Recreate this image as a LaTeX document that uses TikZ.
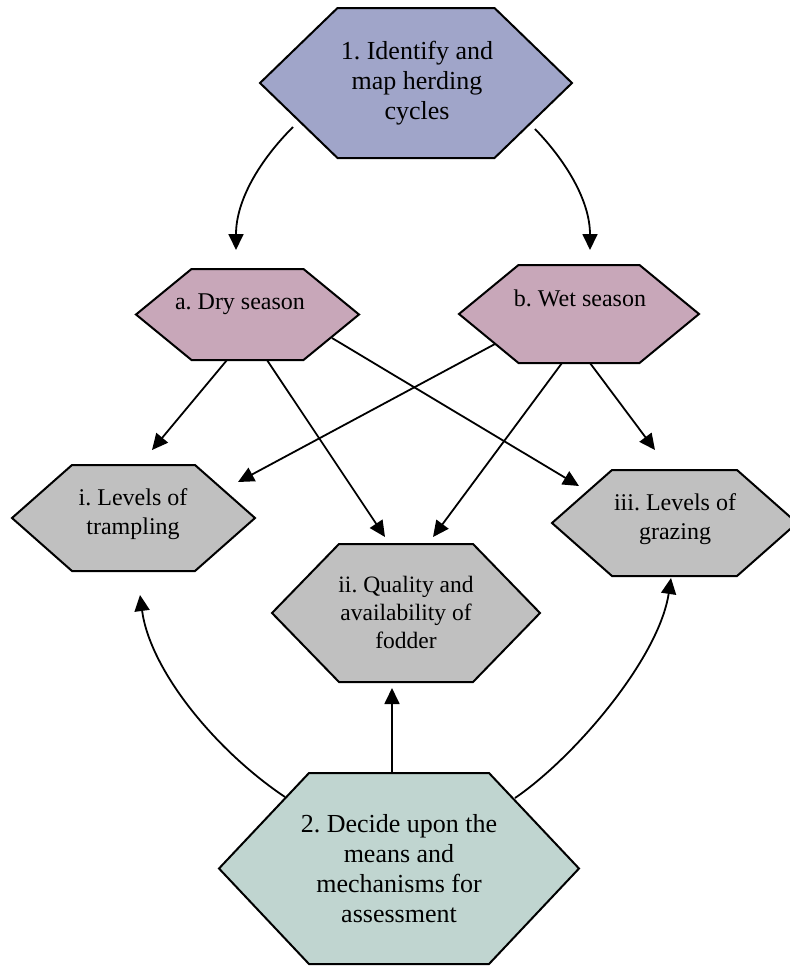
\documentclass[tikz,border=0pt]{standalone}
\usepackage{fontspec}
\setmainfont{Liberation Serif}
\usetikzlibrary{arrows.meta,calc}
\definecolor{cTop}{HTML}{A0A5C9}
\definecolor{cSea}{HTML}{C8A7B9}
\definecolor{cGry}{HTML}{C0C0C0}
\definecolor{cBot}{HTML}{C0D5D0}
\newcommand\fbig{\fontsize{26}{30}\selectfont\frenchspacing}
\newcommand\fmid{\fontsize{24}{29}\selectfont\frenchspacing}
\newcommand\fsml{\fontsize{23.5}{28}\selectfont\frenchspacing}
% style, cx, cy, half width, half height, half top edge
\newcommand\hexpath[6]{%
  \path[#1] ({#2-#4},#3) -- ({#2-#6},{#3-#5}) -- ({#2+#6},{#3-#5}) --
    ({#2+#4},#3) -- ({#2+#6},{#3+#5}) -- ({#2-#6},{#3+#5}) -- cycle;}
\tikzset{
  hexs/.style={draw=black, line width=2pt, line join=miter},
  lbl/.style={align=center, inner sep=0pt, text=black},
  arr/.style={line width=1.8pt, -{Triangle[length=16pt,width=15pt]}},
}
\begin{document}
\begin{tikzpicture}[x=1pt,y=-1pt]
\useasboundingbox (0,0) rectangle (790,967);
% hexagons
\hexpath{hexs,fill=cTop}{416}{83}{156}{75}{78.5}
\hexpath{hexs,fill=cSea}{247.5}{314.5}{111.5}{45.5}{56}
\hexpath{hexs,fill=cSea}{579}{314}{120}{49}{60.5}
\hexpath{hexs,fill=cGry}{133.5}{518}{121.5}{53}{61.5}
\hexpath{hexs,fill=cGry}{406}{613}{134}{69}{67}
\hexpath{hexs,fill=cGry}{674.5}{523}{122.5}{53}{62.5}
\hexpath{hexs,fill=cBot}{399}{868.5}{180}{95.5}{90}
% labels
\node[lbl,font=\fbig] (h1) at (417,83) {1. Identify and\\map herding\\cycles};
\node[lbl,font=\fmid] (ha) at (240,304) {a. Dry season};
\node[lbl,font=\fmid] (hb) at (580,298) {b. Wet season};
\node[lbl,font=\fmid] (hi) at (133,514) {i. Levels of\\trampling};
\node[lbl,font=\fsml] (hii) at (406,612) {ii. Quality and\\availability of\\fodder};
\node[lbl,font=\fmid] (hiii) at (675,519) {iii. Levels of\\grazing};
\node[lbl,font=\fbig] (h2) at (399,869) {2. Decide upon the\\means and\\mechanisms for\\assessment};
% connector end points
\coordinate (h1-a) at (293,127);  \coordinate (ha-in) at (236,250);
\coordinate (h1-b) at (535,129);  \coordinate (hb-in) at (590,250);
\coordinate (ha-i) at (227,360);  \coordinate (hi-a) at (152,450);
\coordinate (ha-ii) at (267,360); \coordinate (hii-a) at (385,537);
\coordinate (ha-iii) at (332,338); \coordinate (hiii-a) at (579,486);
\coordinate (hb-i) at (495,344);  \coordinate (hi-b) at (238,482);
\coordinate (hb-ii) at (562,363); \coordinate (hii-b) at (433,537);
\coordinate (hb-iii) at (590,363); \coordinate (hiii-b) at (655,450);
\coordinate (h2-i) at (285,797);  \coordinate (hi-2) at (140,595);
\coordinate (h2-ii) at (392,773); \coordinate (hii-2) at (392,688);
\coordinate (h2-iii) at (515,798); \coordinate (hiii-2) at (671,578);
% connectors
\draw[arr] (h1-a) .. controls (260,160) and (236,200) .. (ha-in);
\draw[arr] (h1-b) .. controls (565,160) and (590,200) .. (hb-in);
\draw[arr] (ha-i) -- (hi-a);
\draw[arr] (ha-ii) -- (hii-a);
\draw[arr] (ha-iii) -- (hiii-a);
\draw[arr] (hb-i) -- (hi-b);
\draw[arr] (hb-ii) -- (hii-b);
\draw[arr] (hb-iii) -- (hiii-b);
\draw[arr] (h2-i) .. controls (215,750) and (150,670) .. (hi-2);
\draw[arr] (h2-ii) -- (hii-2);
\draw[arr] (h2-iii) .. controls (575,757) and (659,658) .. (hiii-2);
\end{tikzpicture}
\end{document}
